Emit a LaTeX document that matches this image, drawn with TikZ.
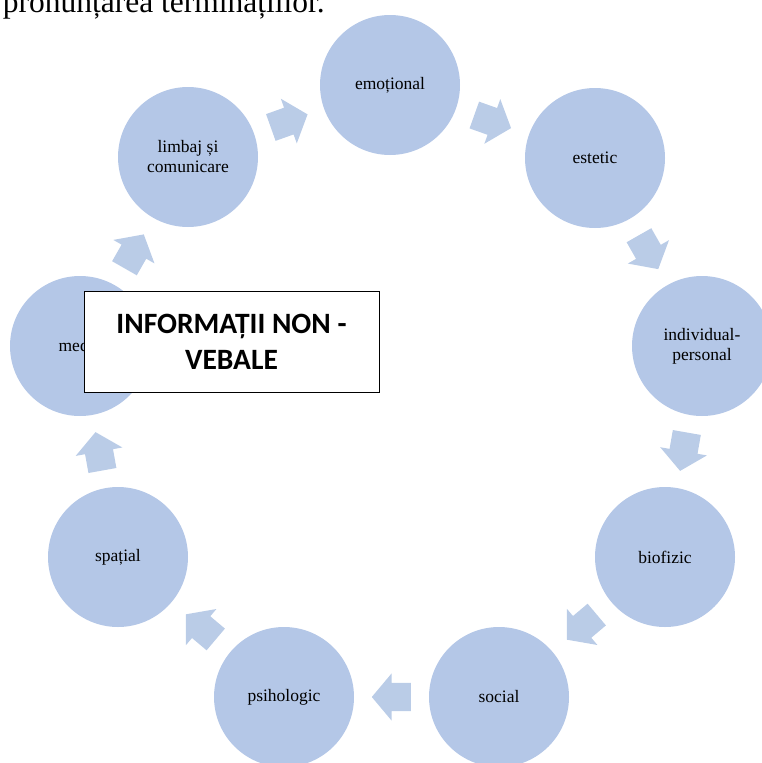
\documentclass[tikz,border=0pt]{standalone}
\usepackage{fontspec}
\setmainfont{Liberation Serif}
\newfontfamily\boxfont{Carlito}
\usetikzlibrary{shapes.arrows,calc}
\definecolor{circ}{RGB}{180,199,231}
\definecolor{arr}{RGB}{186,204,231}
\begin{document}
\begin{tikzpicture}[x=1pt,y=-1pt,
  bub/.style={circle,fill=circ,minimum size=140pt,inner sep=0pt,align=center,
    font=\fontsize{17.5}{20}\selectfont},
  blk/.style={single arrow,fill=arr,draw=none,minimum height=39pt,
    single arrow head extend=9.5pt,single arrow tip angle=100,
    inner xsep=0pt,inner ysep=14pt,text height=0pt,text depth=0pt,
    sloped,allow upside down,pos=0,anchor=tail},
  titlebox/.style={draw=black,fill=white,line width=0.8pt,minimum width=295pt,
    minimum height=101pt,inner sep=0pt,align=center,
    font=\boxfont\bfseries\fontsize{29.5}{36}\selectfont}]
\useasboundingbox (0,0) rectangle (761,763);
\node[anchor=base east,inner sep=0pt,font=\fontsize{31.5}{34}\selectfont] (top) at (325,12) {pronunțarea terminațiilor.};
\node[bub] (emo) at (390,85) {emoțional};
\node[bub] (est) at (595,158) {estetic};
\node[bub] (ind) at (702,346) {individual-\\personal};
\node[bub] (bio) at (665,557) {biofizic};
\node[bub] (soc) at (499,697) {social};
\node[bub] (psi) at (284,697) {psihologic};
\node[bub] (spa) at (118,557) {spațial};
\node[bub] (med) at (80,346) {media};
\node[bub] (lim) at (188,157) {limbaj și\\comunicare};
\foreach \a/\b in {lim/emo,emo/est,est/ind,ind/bio,bio/soc,soc/psi,psi/spa,spa/med,med/lim}{
  \coordinate (m) at ($(\a)!0.5!(\b)$);
  \coordinate (t) at ($(m)!19.5pt!(\a)$);
  \path (t) -- (m) node[blk] {};
}
\node[titlebox] (box) at (231.5,341.5) {INFORMAȚII NON -\\VEBALE};
\end{tikzpicture}
\end{document}
